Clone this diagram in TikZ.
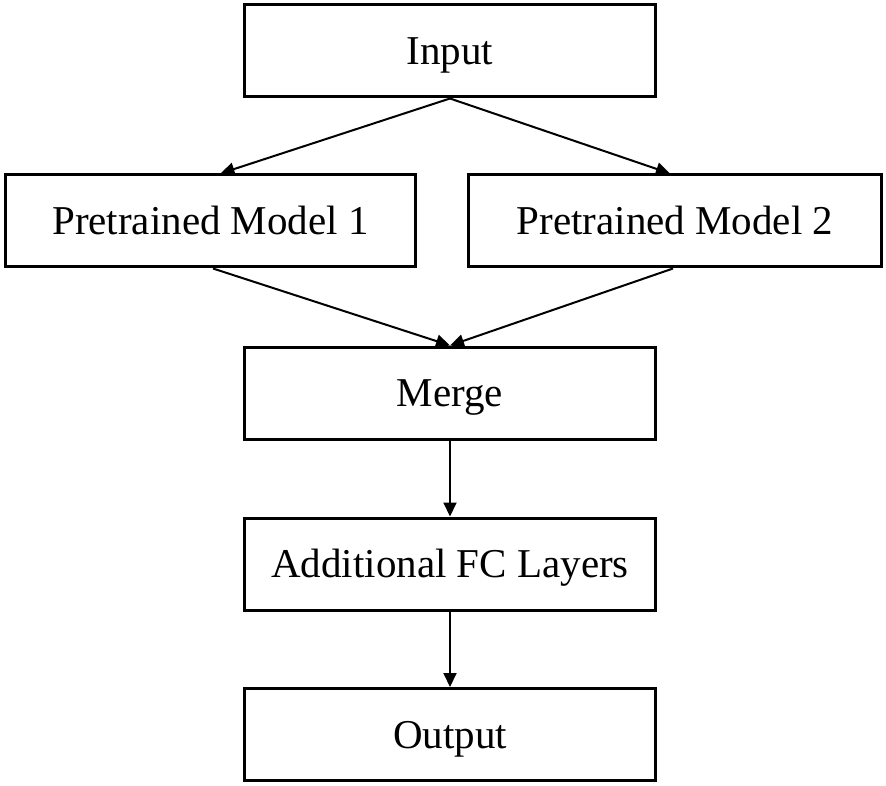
\documentclass[tikz,border=0pt]{standalone}
\usepackage{fontspec}
\setmainfont{Liberation Serif}
\usetikzlibrary{arrows.meta}
\begin{document}
\begin{tikzpicture}[x=1pt,y=1pt,
  box/.style={draw=black, line width=3pt, minimum width=411pt, minimum height=92pt,
    inner sep=0pt, text height=27pt, text depth=0pt,
    font=\fontsize{41}{49}\selectfont, anchor=center},
  conn/.style={line width=2pt, -{Triangle[length=14pt,width=13pt]}}]
\useasboundingbox (0,0) rectangle (886,-786);
\node[box] (in) at (450,-51) {Input};
\node[box, minimum width=410pt] (pm1) at (210.5,-221) {Pretrained Model 1};
\node[box, minimum width=413pt] (pm2) at (675,-221) {Pretrained Model 2};
\node[box] (mg) at (450,-393) {Merge};
\node[box] (fc) at (450,-564) {Additional FC Layers};
\node[box] (out) at (450,-734.5) {Output};
\draw[conn] (in.south) -- ([xshift=10pt]pm1.north);
\draw[conn] (in.south) -- ([xshift=-5pt]pm2.north);
\draw[conn] ([xshift=2.5pt]pm1.south) -- (mg.north);
\draw[conn] ([xshift=-2pt]pm2.south) -- (mg.north);
\draw[conn] (mg.south) -- (fc.north);
\draw[conn] (fc.south) -- (out.north);
\end{tikzpicture}
\end{document}
